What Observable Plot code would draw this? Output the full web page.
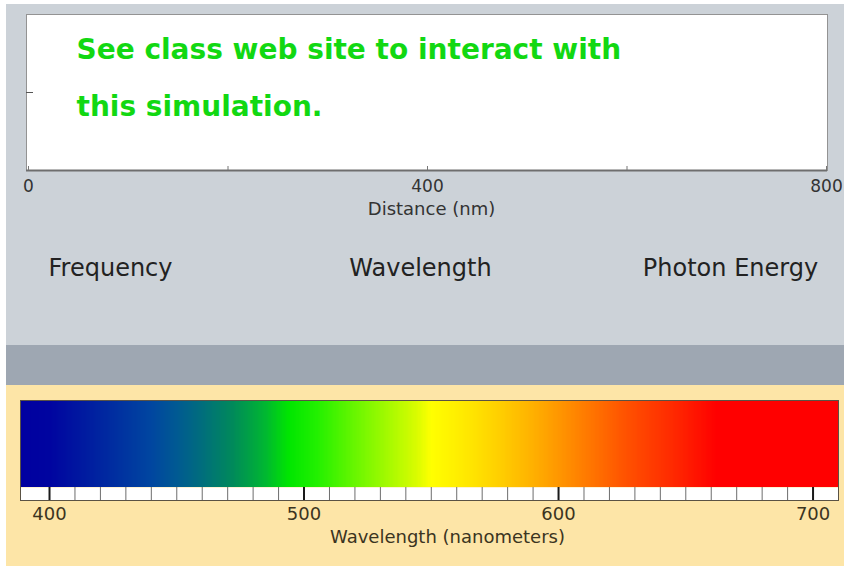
<!DOCTYPE html>
<html>
<head>
<meta charset="utf-8">
<script src="https://cdn.jsdelivr.net/npm/d3@7"></script>
<script src="https://cdn.jsdelivr.net/npm/@observablehq/plot@0.6"></script>
<style>
  html, body { margin: 0; padding: 0; background: #ffffff; }
  #page { position: relative; width: 844px; height: 568px; overflow: hidden; font-family: "DejaVu Sans", sans-serif; }
  .panel { position: absolute; }
  .layer { position: absolute; left: 0; }
</style>
</head>
<body>
<div id="page">
  <div class="panel" style="left:6px;top:4px;width:838px;height:341px;background:#ccd2d8;"></div>
  <div class="panel" style="left:6px;top:345px;width:838px;height:40px;background:#9ea7b2;"></div>
  <div class="panel" style="left:6px;top:385px;width:838px;height:181px;background:#fde5a7;"></div>
  <div class="layer" id="top" style="top:0px;"></div>
  <div class="layer" id="mid" style="top:230px;"></div>
  <div class="layer" id="bottom" style="top:385px;"></div>
</div>
<script>
// ---- data ----
const distanceDomain = [0, 800];
const distanceTicks = [0, 200, 400, 600, 800];
const distanceLabels = [0, 400, 800];
const annotation = "See class web site to interact with\nthis simulation.";
const quantities = ["Frequency", "Wavelength", "Photon Energy"];

const wavelengthDomain = [388.6, 710];
const spectrumStops  = [388.6, 400, 440, 450, 460, 472, 485, 494, 505, 525, 544, 550, 565, 578, 590, 601, 625, 648, 662, 710];
const spectrumColors = ["#0000a0", "#0004a0", "#0046a0", "#005a92", "#006e7c", "#008a5a", "#00b830", "#00e600",
                        "#22f000", "#80f800", "#d8fc00", "#ffff00", "#ffe600", "#ffcc00", "#ffb000", "#ff9400",
                        "#ff5500", "#ff2200", "#ff0000", "#ff0000"];
const wavelengthMinorTicks = [400, 410, 420, 430, 440, 450, 460, 470, 480, 490, 500, 510, 520, 530, 540, 550,
                              560, 570, 580, 590, 600, 610, 620, 630, 640, 650, 660, 670, 680, 690, 700, 710];
const wavelengthMajorTicks = [400, 500, 600, 700];

const transparent = {background: "transparent", overflow: "visible", fontFamily: "DejaVu Sans, sans-serif"};

// ---- top: distance plot ----
const topPlot = Plot.plot({
  width: 844, height: 230,
  marginLeft: 28, marginRight: 18, marginTop: 14, marginBottom: 60,
  style: transparent,
  x: {domain: distanceDomain, label: null},
  y: {domain: [-1, 1], axis: null},
  marks: [
    Plot.frame({fill: "white", stroke: "#939393", insetLeft: -2, insetRight: -1}),
    Plot.ruleY([-1], {stroke: "#6e6e6e", strokeWidth: 2, insetLeft: -2, insetRight: -1}),
    Plot.tickX(distanceTicks, {x: d => d, insetTop: 152, stroke: "#777"}),
    Plot.tickY([0], {y: d => d, insetLeft: -2, insetRight: 793, stroke: "#555"}),
    Plot.axisX(distanceLabels, {tickSize: 0, tickPadding: 9, fontSize: 17, color: "#333", label: null}),
    Plot.text(["Distance (nm)"], {frameAnchor: "bottom", lineAnchor: "middle", dy: 39, dx: 4, fontSize: 18, fill: "#333"}),
    Plot.text([annotation], {frameAnchor: "top-left", textAnchor: "start", lineAnchor: "top", lineHeight: 2.03,
      dx: 48, dy: 4, fontSize: 28, fontWeight: "bold", fill: "#12d812"})
  ]
});
document.getElementById("top").append(topPlot);

// ---- middle: quantity labels ----
const midPlot = Plot.plot({
  width: 844, height: 75,
  marginLeft: 0, marginRight: 0, marginTop: 0, marginBottom: 0,
  style: transparent,
  x: {type: "point", domain: quantities, range: [109, 730], padding: 0, axis: null},
  marks: [
    Plot.text(quantities, {x: d => d, fontSize: 24, fill: "#222", lineAnchor: "middle"})
  ]
});
document.getElementById("mid").append(midPlot);

// ---- bottom: visible spectrum ----
const step = 0.5;
const samples = d3.range(wavelengthDomain[0], wavelengthDomain[1], step);
const bottomPlot = Plot.plot({
  width: 844, height: 180,
  marginLeft: 20, marginRight: 6, marginTop: 15, marginBottom: 65,
  style: transparent,
  x: {domain: wavelengthDomain, label: null},
  y: {domain: [0, 100], axis: null},
  color: {type: "linear", domain: spectrumStops, range: spectrumColors, interpolate: "rgb"},
  marks: [
    Plot.rect(samples, {x1: d => d, x2: d => Math.min(d + step * 1.5, wavelengthDomain[1]), y1: 13, y2: 100,
      fill: d => d, shapeRendering: "crispEdges"}),
    Plot.frame({fill: "white", insetTop: 87}),
    Plot.tickX(wavelengthMinorTicks, {x: d => d, insetTop: 87, stroke: "#6d6d6d"}),
    Plot.tickX(wavelengthMajorTicks, {x: d => d, insetTop: 87, stroke: "#1a1a1a", strokeWidth: 2}),
    Plot.frame({stroke: "#5a5244"}),
    Plot.axisX(wavelengthMajorTicks, {tickSize: 0, tickPadding: 7, fontSize: 18, color: "#3b3421", label: null}),
    Plot.text(["Wavelength (nanometers)"], {frameAnchor: "bottom", lineAnchor: "middle", dy: 37, dx: 18, fontSize: 18, fill: "#3b3421"})
  ]
});
document.getElementById("bottom").append(bottomPlot);
</script>
</body>
</html>
